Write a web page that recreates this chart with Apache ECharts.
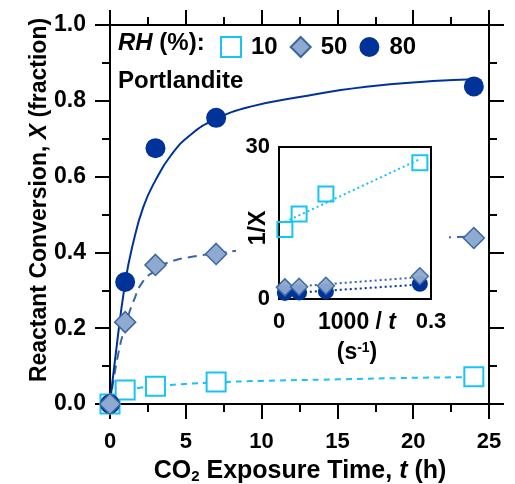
<!DOCTYPE html>
<html>
<head>
<meta charset="utf-8">
<script src="https://cdn.jsdelivr.net/npm/echarts@6/dist/echarts.min.js"></script>
<style>
  html, body { margin: 0; padding: 0; background: #fff; }
  #chart { width: 515px; height: 484px; }
</style>
</head>
<body>
<div id="chart"></div>
<script>
// Measured conversion of portlandite vs. CO2 exposure time (h)
const hours   = [0, 1, 3, 7, 24];
const conv10  = [0, 0.037, 0.047, 0.058, 0.072];
const conv50  = [0, 0.216, 0.367, 0.396, 0.438];
const conv80  = [0, 0.322, 0.675, 0.755, 0.838];

// Fitted kinetic curves (time, conversion)
const fit80T = [0, 0.33, 1, 1.5, 2.2, 3, 4, 5.3, 7, 9.2, 12.5, 16.9, 21.3, 24];
const fit80X = [0, 0.116, 0.32, 0.42, 0.52, 0.59, 0.655, 0.71, 0.752, 0.784, 0.81, 0.837, 0.852, 0.857];
const fit50T = [0, 0.55, 1.1, 1.54, 2.2, 3, 3.74, 5.5, 7, 8.8, 11, 16, 22.5, 24];
const fit50X = [0, 0.134, 0.217, 0.27, 0.325, 0.352, 0.372, 0.389, 0.397, 0.406, 0.413, 0.427, 0.44, 0.442];
const fit10T = [0, 0.5, 1, 2, 3, 5, 7, 10, 15, 20, 24];
const fit10X = [0, 0.024, 0.036, 0.043, 0.047, 0.053, 0.057, 0.061, 0.065, 0.069, 0.071];

// Inset: linearised form, 1/X vs 1000/t (t in s)
const invTime = [0.0116, 0.0397, 0.0926, 0.278];
const inv10   = [13.7, 16.8, 20.7, 26.9];
const inv50   = [2.3, 2.4, 2.6, 4.5];
const inv80   = [1.2, 1.3, 1.5, 3.0];
const invLineT  = [0.0116, 0.278];
const invLine10 = [15.2, 27.6];
const invLine50 = [2.3, 4.3];
const invLine80 = [1.1, 2.85];

// Axis ticks
const xMainTicks = { min: 0, max: 25, step: 5 };
const yMainTicks = { min: 0, max: 1, step: 0.2 };
const xInsetTicks = { min: 0, max: 0.3, step: 0.3 };
const yInsetTicks = { min: 0, max: 30, step: 30 };

const FONT = '"Liberation Sans", Arial, sans-serif';
const C_DARK = '#003399';
const C_MID_FILL = '#8eaad0';
const C_MID_EDGE = '#3c679e';
const C_CYAN = '#19c3f3';

const zip = (a, b) => a.map((v, i) => [v, b[i]]);

const frameLine = { show: true, onZero: false, lineStyle: { color: '#000', width: 2 } };
const majorTick = { show: true, inside: false, length: 15, lineStyle: { color: '#000', width: 2 } };
const minorTick = { show: true, splitNumber: 2, length: 8, lineStyle: { color: '#000', width: 2 } };
const tickLabel = (size) => ({ color: '#000', fontFamily: FONT, fontWeight: 'bold', fontSize: size });

const chart = echarts.init(document.getElementById('chart'), null, { renderer: 'canvas' });

const option = {
  animation: false,
  backgroundColor: '#fff',
  grid: [
    { left: 110, top: 25, width: 379, height: 379 },
    { left: 279, top: 147, width: 152, height: 152, show: true, borderColor: '#000', borderWidth: 2, backgroundColor: 'transparent', z: 5 }
  ],
  xAxis: [
    {
      gridIndex: 0, type: 'value', min: xMainTicks.min, max: xMainTicks.max, interval: xMainTicks.step,
      axisLine: frameLine, axisTick: majorTick, minorTick: minorTick,
      splitLine: { show: false },
      axisLabel: Object.assign({ margin: 27 }, tickLabel(22))
    },
    {
      gridIndex: 0, type: 'value', position: 'top', min: xMainTicks.min, max: xMainTicks.max, interval: xMainTicks.step,
      axisLine: frameLine, axisTick: majorTick, minorTick: minorTick,
      splitLine: { show: false }, axisLabel: { show: false }
    },
    {
      gridIndex: 1, type: 'value', min: xInsetTicks.min, max: xInsetTicks.max, interval: xInsetTicks.step, z: 6,
      axisLine: { show: false }, axisTick: { show: false }, splitLine: { show: false },
      axisLabel: Object.assign({ margin: 12, formatter: v => (v === 0 ? '0' : v.toFixed(1)) }, tickLabel(22))
    }
  ],
  yAxis: [
    {
      gridIndex: 0, type: 'value', min: yMainTicks.min, max: yMainTicks.max, interval: yMainTicks.step,
      axisLine: frameLine, axisTick: majorTick, minorTick: minorTick,
      splitLine: { show: false },
      axisLabel: Object.assign({ margin: 24, formatter: v => v.toFixed(1) }, tickLabel(23))
    },
    {
      gridIndex: 0, type: 'value', position: 'right', min: yMainTicks.min, max: yMainTicks.max, interval: yMainTicks.step,
      axisLine: frameLine, axisTick: majorTick, minorTick: minorTick,
      splitLine: { show: false }, axisLabel: { show: false }
    },
    {
      gridIndex: 1, type: 'value', min: yInsetTicks.min, max: yInsetTicks.max, interval: yInsetTicks.step, z: 6,
      axisLine: { show: false }, axisTick: { show: false }, splitLine: { show: false },
      axisLabel: Object.assign({ margin: 9 }, tickLabel(22))
    }
  ],
  legend: {
    data: ['10', '50', '80'],
    left: 215, top: 30,
    itemWidth: 20, itemHeight: 20, itemGap: 12,
    selectedMode: false,
    textStyle: { color: '#000', fontFamily: FONT, fontWeight: 'bold', fontSize: 24, padding: [0, 0, 0, 5] }
  },
  graphic: [
    // white panel behind the inset and its labels
    { type: 'rect', z: 3, silent: true, shape: { x: 236, y: 136, width: 213, height: 234 }, style: { fill: '#fff' } },
    {
      type: 'text', z: 10, left: 118, top: 31,
      style: {
        text: '{i|RH} {b|(%):}',
        rich: {
          i: { fontFamily: FONT, fontWeight: 'bold', fontStyle: 'italic', fontSize: 24, fill: '#000' },
          b: { fontFamily: FONT, fontWeight: 'bold', fontSize: 24, fill: '#000' }
        },
        font: 'bold 24px ' + FONT
      }
    },
    {
      type: 'text', z: 10, left: 118, top: 69,
      style: { text: 'Portlandite', fill: '#000', font: 'bold 24px ' + FONT }
    },
    {
      type: 'text', z: 10, x: 40, y: 200, rotation: Math.PI / 2,
      style: {
        text: '{b|Reactant Conversion, }{i|X}{b| (fraction)}',
        align: 'center', verticalAlign: 'middle',
        rich: {
          b: { fontFamily: FONT, fontWeight: 'bold', fontSize: 23, fill: '#000' },
          i: { fontFamily: FONT, fontWeight: 'bold', fontStyle: 'italic', fontSize: 23, fill: '#000' }
        }
      }
    },
    {
      type: 'text', z: 10, x: 300, y: 471,
      style: {
        text: '{b|CO}{s|2}{b| Exposure Time, }{i|t}{b| (h)}',
        align: 'center', verticalAlign: 'middle',
        rich: {
          b: { fontFamily: FONT, fontWeight: 'bold', fontSize: 25, fill: '#000' },
          s: { fontFamily: FONT, fontWeight: 'bold', fontSize: 15, fill: '#000', verticalAlign: 'bottom', padding: [11, 0, 0, 0] },
          i: { fontFamily: FONT, fontWeight: 'bold', fontStyle: 'italic', fontSize: 25, fill: '#000' }
        }
      }
    },
    {
      type: 'text', z: 10, x: 259, y: 228, rotation: Math.PI / 2,
      style: { text: '1/X', align: 'center', verticalAlign: 'middle', fill: '#000', font: 'bold 23px ' + FONT }
    },
    {
      type: 'text', z: 10, x: 357, y: 323,
      style: {
        text: '{b|1000 / }{i|t}',
        align: 'center', verticalAlign: 'middle',
        rich: {
          b: { fontFamily: FONT, fontWeight: 'bold', fontSize: 23, fill: '#000' },
          i: { fontFamily: FONT, fontWeight: 'bold', fontStyle: 'italic', fontSize: 23, fill: '#000' }
        }
      }
    },
    {
      type: 'text', z: 10, x: 357, y: 353,
      style: {
        text: '{b|(s}{p|-1}{b|)}',
        align: 'center', verticalAlign: 'middle',
        rich: {
          b: { fontFamily: FONT, fontWeight: 'bold', fontSize: 23, fill: '#000' },
          p: { fontFamily: FONT, fontWeight: 'bold', fontSize: 14, fill: '#000', verticalAlign: 'top', padding: [0, 0, 10, 0] }
        }
      }
    }
  ],
  series: [
    // fitted curves
    { name: 'fit10', type: 'line', xAxisIndex: 0, yAxisIndex: 0, data: zip(fit10T, fit10X), showSymbol: false, smooth: 0.5, lineStyle: { color: C_CYAN, width: 2, type: [6, 5] }, z: 2 },
    { name: 'fit50', type: 'line', xAxisIndex: 0, yAxisIndex: 0, data: zip(fit50T, fit50X), showSymbol: false, smooth: 0.5, lineStyle: { color: C_MID_EDGE, width: 2, type: [9, 6] }, z: 2 },
    { name: 'fit80', type: 'line', xAxisIndex: 0, yAxisIndex: 0, data: zip(fit80T, fit80X), showSymbol: false, smooth: 0.5, lineStyle: { color: C_DARK, width: 2 }, z: 2 },
    // measured points
    { name: '10', type: 'scatter', xAxisIndex: 0, yAxisIndex: 0, data: zip(hours, conv10), symbol: 'rect', symbolSize: 19, clip: false, itemStyle: { color: '#fff', borderColor: C_CYAN, borderWidth: 2, opacity: 1 }, z: 2 },
    { name: '80', type: 'scatter', xAxisIndex: 0, yAxisIndex: 0, data: zip(hours, conv80), symbol: 'circle', symbolSize: 20, clip: false, itemStyle: { color: C_DARK, opacity: 1 }, z: 2 },
    { name: '50', type: 'scatter', xAxisIndex: 0, yAxisIndex: 0, data: zip(hours, conv50), symbol: 'diamond', symbolSize: 21, clip: false, itemStyle: { color: C_MID_FILL, borderColor: C_MID_EDGE, borderWidth: 1.5, opacity: 1 }, z: 2 },

    // inset: linear fits
    { name: 'lin10', type: 'line', xAxisIndex: 2, yAxisIndex: 2, data: zip(invLineT, invLine10), showSymbol: false, lineStyle: { color: C_CYAN, width: 2, type: [2, 3] }, z: 6 },
    { name: 'lin50', type: 'line', xAxisIndex: 2, yAxisIndex: 2, data: zip(invLineT, invLine50), showSymbol: false, lineStyle: { color: C_MID_EDGE, width: 2, type: [2, 3] }, z: 6 },
    { name: 'lin80', type: 'line', xAxisIndex: 2, yAxisIndex: 2, data: zip(invLineT, invLine80), showSymbol: false, lineStyle: { color: C_DARK, width: 2, type: [2, 3] }, z: 6 },
    // inset: points
    { name: 'inv10', type: 'scatter', xAxisIndex: 2, yAxisIndex: 2, data: zip(invTime, inv10), symbol: 'rect', symbolSize: 15, clip: false, itemStyle: { color: 'rgba(255,255,255,0)', borderColor: C_CYAN, borderWidth: 2, opacity: 1 }, z: 6 },
    { name: 'inv80', type: 'scatter', xAxisIndex: 2, yAxisIndex: 2, data: zip(invTime, inv80), symbol: 'circle', symbolSize: 16, clip: false, itemStyle: { color: C_DARK, opacity: 1 }, z: 6 },
    { name: 'inv50', type: 'scatter', xAxisIndex: 2, yAxisIndex: 2, data: zip(invTime, inv50), symbol: 'diamond', symbolSize: 17, clip: false, itemStyle: { color: C_MID_FILL, borderColor: C_MID_EDGE, borderWidth: 1.5, opacity: 0.95 }, z: 6 }
  ]
};

chart.setOption(option);
</script>
</body>
</html>
